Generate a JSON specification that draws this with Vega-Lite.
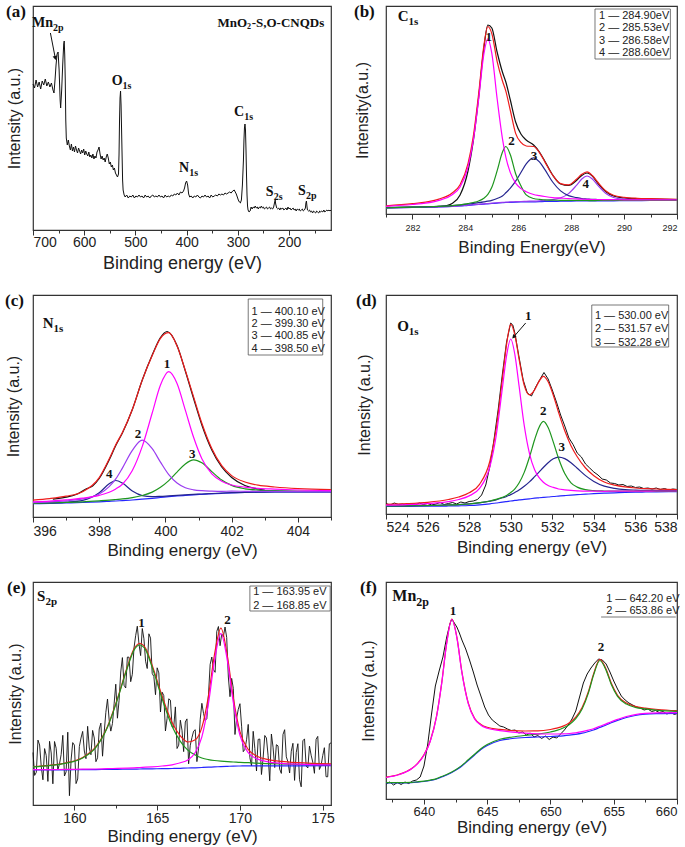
{
"$schema":"https://vega.github.io/schema/vega-lite/v6.json",
"background":"white",
"padding":{"left":4,"top":2,"right":1,"bottom":1},
"bounds":"flush",
"columns":2,
"spacing":{"row":65,"column":55},
"config":{
 "view":{"stroke":"#333","strokeWidth":1.2},
 "axis":{"labelFont":"Liberation Sans","titleFont":"Liberation Sans","titleFontWeight":"normal","labelColor":"#222","titleColor":"#222","domainColor":"#333","tickColor":"#333","grid":false},
 "title":{"font":"Liberation Serif","fontWeight":"bold","fontSize":17,"color":"#111","anchor":"start","frame":"bounds","offset":-15},
 "line":{"strokeWidth":1.2,"interpolate":"monotone","clip":true}
},
"datasets":{
"aRaw":[{"x":700,"y":146},{"x":697,"y":142},{"x":694,"y":150},{"x":691,"y":143},{"x":688,"y":148},{"x":685,"y":141},{"x":682,"y":149},{"x":679,"y":145},{"x":676,"y":151},{"x":673,"y":144},{"x":670,"y":148},{"x":667,"y":143},{"x":664,"y":147},{"x":661,"y":140},{"x":659,"y":137},{"x":657,"y":150},{"x":655,"y":165},{"x":653,"y":176},{"x":651,"y":178},{"x":649,"y":160},{"x":647,"y":130},{"x":646,"y":122},{"x":644,"y":140},{"x":642,"y":165},{"x":640,"y":186},{"x":639,"y":189},{"x":638,"y":175},{"x":637,"y":150},{"x":636,"y":110},{"x":635,"y":92},{"x":633,"y":85},{"x":631,"y":90},{"x":629,"y":84},{"x":627,"y":80},{"x":625,"y":86},{"x":623,"y":79},{"x":621,"y":83},{"x":619,"y":78},{"x":617,"y":84},{"x":615,"y":80},{"x":613,"y":77},{"x":611,"y":82},{"x":609,"y":79},{"x":607,"y":76},{"x":605,"y":80},{"x":603,"y":77},{"x":601,"y":81},{"x":599,"y":75},{"x":597,"y":79},{"x":595,"y":76},{"x":593,"y":74},{"x":591,"y":78},{"x":589,"y":73},{"x":587,"y":75},{"x":585,"y":72},{"x":583,"y":76},{"x":581,"y":71},{"x":579,"y":74},{"x":577,"y":72},{"x":575,"y":78},{"x":573,"y":80},{"x":571,"y":83},{"x":569,"y":76},{"x":567,"y":71},{"x":565,"y":74},{"x":563,"y":70},{"x":561,"y":72},{"x":559,"y":68},{"x":557,"y":73},{"x":555,"y":76},{"x":553,"y":72},{"x":551,"y":66},{"x":549,"y":68},{"x":547,"y":63},{"x":545,"y":65},{"x":543,"y":60},{"x":541,"y":62},{"x":539,"y":57},{"x":537,"y":55},{"x":535,"y":53},{"x":533,"y":56},{"x":532,"y":75},{"x":531,"y":110},{"x":530,"y":132},{"x":529,"y":139},{"x":528,"y":125},{"x":527,"y":100},{"x":526,"y":75},{"x":525,"y":50},{"x":524,"y":40},{"x":522,"y":35},{"x":520,"y":33},{"x":517,"y":35},{"x":514,"y":32},{"x":511,"y":34},{"x":508,"y":33},{"x":505,"y":35},{"x":502,"y":32},{"x":499,"y":34},{"x":496,"y":33},{"x":493,"y":35},{"x":490,"y":33},{"x":487,"y":34},{"x":484,"y":32},{"x":481,"y":35},{"x":478,"y":33},{"x":475,"y":34},{"x":472,"y":32},{"x":469,"y":34},{"x":466,"y":35},{"x":463,"y":33},{"x":460,"y":34},{"x":457,"y":33},{"x":454,"y":35},{"x":451,"y":33},{"x":448,"y":34},{"x":445,"y":32},{"x":442,"y":35},{"x":439,"y":33},{"x":436,"y":34},{"x":433,"y":33},{"x":430,"y":35},{"x":427,"y":34},{"x":424,"y":36},{"x":421,"y":35},{"x":418,"y":37},{"x":415,"y":35},{"x":412,"y":38},{"x":409,"y":37},{"x":406,"y":39},{"x":404,"y":42},{"x":402,"y":47},{"x":400,"y":49},{"x":398,"y":45},{"x":396,"y":36},{"x":394,"y":33},{"x":391,"y":34},{"x":388,"y":32},{"x":385,"y":34},{"x":382,"y":33},{"x":379,"y":35},{"x":376,"y":33},{"x":373,"y":32},{"x":370,"y":34},{"x":367,"y":33},{"x":364,"y":35},{"x":361,"y":33},{"x":358,"y":34},{"x":355,"y":32},{"x":352,"y":35},{"x":349,"y":33},{"x":346,"y":34},{"x":343,"y":35},{"x":340,"y":34},{"x":337,"y":36},{"x":334,"y":35},{"x":331,"y":36},{"x":328,"y":35},{"x":325,"y":37},{"x":322,"y":36},{"x":319,"y":37},{"x":316,"y":38},{"x":313,"y":37},{"x":310,"y":39},{"x":307,"y":40},{"x":305,"y":38},{"x":303,"y":36},{"x":301,"y":33},{"x":299,"y":30},{"x":297,"y":28},{"x":295,"y":27},{"x":293,"y":30},{"x":291,"y":45},{"x":289,"y":70},{"x":288,"y":90},{"x":287,"y":102},{"x":286,"y":106},{"x":285,"y":100},{"x":284,"y":80},{"x":283,"y":55},{"x":282,"y":35},{"x":281,"y":24},{"x":280,"y":20},{"x":278,"y":18},{"x":276,"y":19},{"x":274,"y":23},{"x":272,"y":21},{"x":270,"y":23},{"x":268,"y":22},{"x":266,"y":24},{"x":264,"y":22},{"x":262,"y":23},{"x":260,"y":21},{"x":258,"y":23},{"x":256,"y":22},{"x":254,"y":24},{"x":252,"y":22},{"x":250,"y":23},{"x":248,"y":21},{"x":246,"y":22},{"x":244,"y":23},{"x":242,"y":21},{"x":240,"y":22},{"x":238,"y":23},{"x":236,"y":21},{"x":234,"y":22},{"x":232,"y":21},{"x":230,"y":23},{"x":228,"y":28},{"x":227,"y":30},{"x":226,"y":26},{"x":224,"y":22},{"x":222,"y":21},{"x":220,"y":22},{"x":218,"y":20},{"x":216,"y":22},{"x":214,"y":21},{"x":212,"y":22},{"x":210,"y":20},{"x":208,"y":21},{"x":206,"y":22},{"x":204,"y":20},{"x":202,"y":23},{"x":200,"y":21},{"x":198,"y":22},{"x":196,"y":20},{"x":194,"y":21},{"x":192,"y":22},{"x":190,"y":20},{"x":188,"y":21},{"x":186,"y":19},{"x":184,"y":21},{"x":182,"y":20},{"x":180,"y":21},{"x":178,"y":19},{"x":176,"y":20},{"x":174,"y":21},{"x":172,"y":19},{"x":170,"y":20},{"x":168,"y":22},{"x":167,"y":27},{"x":166,"y":29},{"x":165,"y":24},{"x":164,"y":20},{"x":162,"y":19},{"x":160,"y":20},{"x":158,"y":18},{"x":156,"y":19},{"x":154,"y":17},{"x":152,"y":19},{"x":150,"y":18},{"x":148,"y":17},{"x":146,"y":19},{"x":144,"y":18},{"x":142,"y":17},{"x":140,"y":19},{"x":138,"y":18},{"x":136,"y":19},{"x":134,"y":18},{"x":132,"y":20},{"x":130,"y":18},{"x":128,"y":19},{"x":126,"y":20},{"x":124,"y":19},{"x":122,"y":20},{"x":120,"y":19},{"x":118,"y":20}],
"aEl":[{"x":661,"y":207,"m":"Mn","s":"2p"},{"x":525,"y":149,"m":"O","s":"1s"},{"x":395,"y":62,"m":"N","s":"1s"},{"x":287.5,"y":118,"m":"C","s":"1s"},{"x":230,"y":38,"m":"S","s":"2s"},{"x":167,"y":39,"m":"S","s":"2p"}],
"aName":[{"x":282,"y":207,"m":"MnO","s":"2"}],
"aTail":[{"x":273,"y":207,"t":"-S,O-CNQDs"}],
"aArrow":[{"x":666,"y":197},{"x":656.5,"y":172}],
"aHead":[{"x":656.5,"y":172}],
"bCur":[
{"x":281,"base":6,"mag":7.6,"grn":6.2,"nav":6.3,"vio":6.05,"env":8.1},
{"x":282,"base":6.5,"mag":9.5,"grn":6.8,"nav":6.9,"vio":6.6,"env":10.3},
{"x":282.5,"base":6.7,"mag":10.8,"grn":7.1,"nav":7.2,"vio":6.8,"env":11.8},
{"x":283,"base":7,"mag":13.6,"grn":7.6,"nav":7.6,"vio":7.1,"env":14.9},
{"x":283.5,"base":7.5,"mag":19.2,"grn":8.4,"nav":8.3,"vio":7.6,"env":21},
{"x":283.8,"base":8,"mag":27,"grn":9.2,"nav":9,"vio":8.1,"env":29.3},
{"x":284.1,"base":8.7,"mag":47,"grn":10.5,"nav":10,"vio":8.85,"env":50.3},
{"x":284.3,"base":9.1,"mag":73.5,"grn":11.5,"nav":10.6,"vio":9.3,"env":77.6},
{"x":284.5,"base":9.5,"mag":114.1,"grn":13,"nav":11.3,"vio":9.7,"env":119.6},
{"x":284.7,"base":9.9,"mag":160.1,"grn":15.8,"nav":12.1,"vio":10.1,"env":168.4},
{"x":284.85,"base":10.2,"mag":175.2,"grn":19.6,"nav":12.8,"vio":10.5,"env":187.5},
{"x":285,"base":10.5,"mag":160.7,"grn":26.7,"nav":13.7,"vio":10.8,"env":180.4},
{"x":285.2,"base":10.9,"mag":115.5,"grn":43.1,"nav":15.5,"vio":11.25,"env":152.7},
{"x":285.4,"base":11.3,"mag":75.7,"grn":61.7,"nav":18,"vio":11.7,"env":133.2},
{"x":285.53,"base":11.5,"mag":56.9,"grn":67.5,"nav":21.2,"vio":11.8,"env":122.9},
{"x":285.7,"base":11.7,"mag":41.4,"grn":59.3,"nav":25.8,"vio":12.1,"env":103.5},
{"x":285.9,"base":11.9,"mag":30.9,"grn":40.3,"nav":32.8,"vio":12.3,"env":80.6},
{"x":286.1,"base":12,"mag":25.4,"grn":28.2,"nav":41.5,"vio":12.5,"env":71.6},
{"x":286.3,"base":12.1,"mag":22.3,"grn":19.1,"nav":50.2,"vio":12.7,"env":68},
{"x":286.58,"base":12.2,"mag":19.5,"grn":15.5,"nav":56.2,"vio":12.9,"env":67.5},
{"x":286.8,"base":12.3,"mag":18.4,"grn":14.6,"nav":52.1,"vio":13.2,"env":61.4},
{"x":287,"base":12.5,"mag":17.5,"grn":14.2,"nav":44.6,"vio":13.6,"env":52.4},
{"x":287.3,"base":12.6,"mag":16.4,"grn":13.8,"nav":32,"vio":14.4,"env":38.8},
{"x":287.6,"base":12.8,"mag":15.9,"grn":13.7,"nav":23.1,"vio":16.1,"env":30.4},
{"x":287.9,"base":12.9,"mag":15.4,"grn":13.6,"nav":18.4,"vio":20.4,"env":29.1},
{"x":288.2,"base":13,"mag":15.1,"grn":13.6,"nav":16.4,"vio":28.7,"env":34.8},
{"x":288.4,"base":13,"mag":14.8,"grn":13.5,"nav":15.4,"vio":35,"env":39.7},
{"x":288.6,"base":13,"mag":14.7,"grn":13.5,"nav":15,"vio":38,"env":42.2},
{"x":288.8,"base":13,"mag":14.5,"grn":13.4,"nav":14.6,"vio":35,"env":38.5},
{"x":289,"base":13.1,"mag":14.5,"grn":13.5,"nav":14.5,"vio":28.8,"env":32},
{"x":289.3,"base":13.2,"mag":14.4,"grn":13.5,"nav":14.3,"vio":20.7,"env":23.3},
{"x":289.6,"base":13.2,"mag":14.3,"grn":13.5,"nav":14.1,"vio":16.5,"env":18.8},
{"x":290,"base":13.3,"mag":14.2,"grn":13.6,"nav":14,"vio":14.8,"env":16.7},
{"x":290.5,"base":13.4,"mag":14.2,"grn":13.6,"nav":13.9,"vio":14.2,"env":15.7},
{"x":291,"base":13.5,"mag":14.2,"grn":13.7,"nav":13.95,"vio":14,"env":15.35},
{"x":292,"base":13.5,"mag":14,"grn":13.6,"nav":13.8,"vio":13.8,"env":14.7}],
"bRaw":[{"x":281,"y":6.5},{"x":282,"y":6.8},{"x":282.5,"y":7},{"x":283,"y":7.6},{"x":283.3,"y":8.5},{"x":283.5,"y":10.5},{"x":283.8,"y":19},{"x":284.1,"y":43},{"x":284.3,"y":73},{"x":284.5,"y":116},{"x":284.7,"y":166},{"x":284.85,"y":189},{"x":285,"y":186},{"x":285.2,"y":162},{"x":285.4,"y":142},{"x":285.53,"y":132},{"x":285.7,"y":114},{"x":285.9,"y":92},{"x":286.1,"y":80},{"x":286.3,"y":74},{"x":286.58,"y":69},{"x":286.8,"y":62},{"x":287,"y":53},{"x":287.3,"y":39},{"x":287.6,"y":30},{"x":287.9,"y":28.5},{"x":288.2,"y":33.5},{"x":288.4,"y":38.5},{"x":288.6,"y":41},{"x":288.8,"y":38},{"x":289,"y":31},{"x":289.3,"y":22.5},{"x":289.6,"y":18},{"x":290,"y":16},{"x":290.5,"y":15.2},{"x":291,"y":14.8},{"x":292,"y":14.3}],
"bEl":[{"x":281.85,"y":198,"m":"C","s":"1s"}],
"bNum":[{"x":284.88,"y":177,"t":"1"},{"x":285.74,"y":73,"t":"2"},{"x":286.59,"y":58,"t":"3"},{"x":288.55,"y":30,"t":"4"}],
"bBox":[{"x":288.9,"x2":291.75,"y":155,"y2":205}],
"bLeg":[{"x":289.05,"y":198,"t":"1 — 284.90eV"},{"x":289.05,"y":186,"t":"2 — 285.53eV"},{"x":289.05,"y":173,"t":"3 — 286.58eV"},{"x":289.05,"y":161,"t":"4 — 288.60eV"}],
"cCur":[
{"x":396,"base":13.3,"mag":15.1,"vio":14.4,"grn":13.7,"nav":13.6,"env":16.9},
{"x":396.5,"base":13.6,"mag":15.9,"vio":15.1,"grn":14.1,"nav":14.1,"env":18.4},
{"x":397,"base":14,"mag":17.1,"vio":16.2,"grn":14.6,"nav":14.9,"env":20.8},
{"x":397.5,"base":14.5,"mag":18.8,"vio":18.1,"grn":15.2,"nav":16.7,"env":25.3},
{"x":398,"base":15.2,"mag":21.7,"vio":22.9,"grn":16.2,"nav":24.2,"env":39.4},
{"x":398.3,"base":15.7,"mag":24.7,"vio":30.3,"grn":16.9,"nav":33.2,"env":58},
{"x":398.5,"base":16,"mag":28.1,"vio":38.1,"grn":17.5,"nav":36.5,"env":72.2},
{"x":398.7,"base":16.4,"mag":32.8,"vio":48.9,"grn":18.1,"nav":33.9,"env":84.5},
{"x":399,"base":17,"mag":46.5,"vio":66.6,"grn":19.4,"nav":26,"env":107.5},
{"x":399.3,"base":17.8,"mag":70.6,"vio":76.8,"grn":21.5,"nav":21.4,"env":136.9},
{"x":399.6,"base":18.7,"mag":104,"vio":68.3,"grn":24.9,"nav":20.3,"env":161.4},
{"x":399.85,"base":19.5,"mag":132,"vio":54.9,"grn":29.7,"nav":20.6,"env":178.7},
{"x":400.1,"base":20.3,"mag":145.3,"vio":42.4,"grn":36.4,"nav":21.1,"env":184.3},
{"x":400.35,"base":21,"mag":133.5,"vio":34,"grn":44.9,"nav":21.6,"env":171},
{"x":400.6,"base":21.6,"mag":106.9,"vio":29.3,"grn":53.1,"nav":22.1,"env":146.6},
{"x":400.85,"base":22.2,"mag":79.7,"vio":27.2,"grn":57.2,"nav":22.6,"env":120.1},
{"x":401.1,"base":22.7,"mag":58.3,"vio":26.3,"grn":54.2,"nav":23,"env":93.7},
{"x":401.4,"base":23.2,"mag":43.2,"vio":25.9,"grn":45.4,"nav":23.5,"env":68.4},
{"x":401.7,"base":23.7,"mag":35.8,"vio":25.7,"grn":37,"nav":23.9,"env":51.3},
{"x":402,"base":24.1,"mag":32,"vio":25.8,"grn":31.6,"nav":24.3,"env":41.4},
{"x":402.4,"base":24.5,"mag":29.9,"vio":25.7,"grn":28.2,"nav":24.7,"env":35},
{"x":402.8,"base":24.8,"mag":28.7,"vio":25.7,"grn":26.9,"nav":24.9,"env":31.8},
{"x":403.3,"base":25,"mag":27.9,"vio":25.7,"grn":26.3,"nav":25.1,"env":30},
{"x":404,"base":25,"mag":27,"vio":25.5,"grn":25.8,"nav":25.1,"env":28.4},
{"x":405,"base":25,"mag":26.4,"vio":25.4,"grn":25.5,"nav":25.1,"env":27.4}],
"cRaw":[{"x":396.6,"y":17.8},{"x":397,"y":19.8},{"x":397.3,"y":22.5},{"x":397.6,"y":28},{"x":397.8,"y":31},{"x":398,"y":38.5},{"x":398.3,"y":57},{"x":398.5,"y":71.5},{"x":398.7,"y":84},{"x":399,"y":107.5},{"x":399.3,"y":137},{"x":399.6,"y":162},{"x":399.85,"y":179.5},{"x":400.05,"y":185.5},{"x":400.35,"y":171.5},{"x":400.6,"y":146},{"x":400.85,"y":118.5},{"x":401.1,"y":92},{"x":401.4,"y":67},{"x":401.7,"y":50},{"x":402,"y":39.5},{"x":402.4,"y":31.5},{"x":402.8,"y":28},{"x":403,"y":27}],
"cEl":[{"x":396.62,"y":194,"m":"N","s":"1s"}],
"cNum":[{"x":400.05,"y":153,"t":"1"},{"x":399.17,"y":83,"t":"2"},{"x":400.81,"y":63,"t":"3"},{"x":398.3,"y":43,"t":"4"}],
"cBox":[{"x":402.5,"x2":404.75,"y":162,"y2":218}],
"cLeg":[{"x":402.6,"y":205,"t":"1 — 400.10 eV"},{"x":402.6,"y":193,"t":"2 — 399.30 eV"},{"x":402.6,"y":181,"t":"3 — 400.85 eV"},{"x":402.6,"y":168,"t":"4 — 398.50 eV"}],
"dCur":[
{"x":524,"base":7.7,"mag":8.8,"grn":8.1,"nav":8.2,"env":9.7},
{"x":525,"base":7.7,"mag":9.4,"grn":8.2,"nav":8.2,"env":10.4},
{"x":526,"base":7.8,"mag":10.4,"grn":8.4,"nav":8.5,"env":11.7},
{"x":527,"base":8,"mag":12.4,"grn":9,"nav":9.1,"env":14.5},
{"x":527.5,"base":8.2,"mag":14.5,"grn":9.4,"nav":9.5,"env":17},
{"x":528,"base":8.5,"mag":18.1,"grn":10,"nav":10.1,"env":21.2},
{"x":528.5,"base":9.2,"mag":25.7,"grn":11.3,"nav":11.1,"env":29.7},
{"x":529,"base":10.2,"mag":47.5,"grn":13,"nav":12.9,"env":53},
{"x":529.3,"base":11,"mag":78.2,"grn":14.6,"nav":14.2,"env":85},
{"x":529.6,"base":11.8,"mag":126,"grn":16.6,"nav":16.2,"env":135.2},
{"x":529.8,"base":12.4,"mag":158.2,"grn":18.5,"nav":17.5,"env":169.4},
{"x":530,"base":13,"mag":175,"grn":21.5,"nav":19.4,"env":189.9},
{"x":530.2,"base":13.6,"mag":159.4,"grn":25.2,"nav":21.6,"env":179},
{"x":530.4,"base":14.1,"mag":128.3,"grn":31,"nav":24,"env":155.1},
{"x":530.65,"base":14.7,"mag":88.6,"grn":41.6,"nav":27.8,"env":128.6},
{"x":530.9,"base":15.2,"mag":60.7,"grn":56.8,"nav":32.1,"env":119.2},
{"x":531.15,"base":15.8,"mag":44.2,"grn":74.3,"nav":37.3,"env":124.2},
{"x":531.35,"base":16.2,"mag":36.8,"grn":86.1,"nav":41.6,"env":132.1},
{"x":531.57,"base":16.6,"mag":31.8,"grn":92.6,"nav":46.5,"env":137.7},
{"x":531.8,"base":17,"mag":28.5,"grn":86.5,"nav":51.3,"env":132.3},
{"x":532.05,"base":17.5,"mag":26.6,"grn":71.9,"nav":55.2,"env":118.7},
{"x":532.3,"base":17.9,"mag":25,"grn":55.7,"nav":56.9,"env":101.8},
{"x":532.6,"base":18.4,"mag":24.2,"grn":40.4,"nav":55.4,"env":83.2},
{"x":532.9,"base":18.9,"mag":23.6,"grn":31.2,"nav":51.3,"env":68.3},
{"x":533.2,"base":19.3,"mag":23.2,"grn":26.9,"nav":45.8,"env":57.3},
{"x":533.6,"base":19.8,"mag":22.9,"grn":24.3,"nav":38.4,"env":46},
{"x":534,"base":20.3,"mag":22.9,"grn":23.4,"nav":32.6,"env":38.3},
{"x":534.5,"base":20.8,"mag":22.7,"grn":23,"nav":27.9,"env":32},
{"x":535,"base":21.2,"mag":22.9,"grn":22.8,"nav":25.6,"env":28.9},
{"x":535.5,"base":21.5,"mag":22.9,"grn":22.8,"nav":24.4,"env":27.1},
{"x":536,"base":21.8,"mag":22.9,"grn":22.8,"nav":23.9,"env":26},
{"x":536.5,"base":22,"mag":22.9,"grn":22.8,"nav":23.6,"env":25.3},
{"x":537,"base":22.2,"mag":23,"grn":22.9,"nav":23.5,"env":25},
{"x":538,"base":22.4,"mag":23,"grn":22.9,"nav":23.3,"env":24.4}],
"dRaw":[{"x":524,"y":10.5},{"x":524.2,"y":9},{"x":524.4,"y":11},{"x":524.6,"y":9.5},{"x":524.8,"y":10},{"x":525,"y":8.5},{"x":525.2,"y":10.5},{"x":525.4,"y":9},{"x":525.6,"y":11},{"x":525.8,"y":9.5},{"x":526,"y":10.5},{"x":526.2,"y":9},{"x":526.4,"y":10},{"x":526.6,"y":11.5},{"x":526.8,"y":9.5},{"x":527,"y":10.5},{"x":527.2,"y":11.5},{"x":527.4,"y":10},{"x":527.6,"y":12},{"x":527.8,"y":11},{"x":528,"y":12.5},{"x":528.2,"y":13},{"x":528.4,"y":14.5},{"x":528.6,"y":19},{"x":528.8,"y":29},{"x":529,"y":48},{"x":529.2,"y":75},{"x":529.4,"y":105},{"x":529.6,"y":140},{"x":529.8,"y":172},{"x":530,"y":191},{"x":530.1,"y":189},{"x":530.2,"y":181},{"x":530.4,"y":157},{"x":530.6,"y":134},{"x":530.8,"y":121},{"x":531,"y":118},{"x":531.2,"y":127},{"x":531.4,"y":134.5},{"x":531.6,"y":141.5},{"x":531.8,"y":135},{"x":532,"y":124},{"x":532.2,"y":112},{"x":532.4,"y":99},{"x":532.6,"y":88},{"x":532.8,"y":76},{"x":533,"y":69.5},{"x":533.2,"y":61},{"x":533.4,"y":57},{"x":533.6,"y":50},{"x":533.8,"y":46},{"x":534,"y":42},{"x":534.2,"y":39},{"x":534.4,"y":35},{"x":534.6,"y":34},{"x":534.8,"y":31},{"x":535,"y":30.5},{"x":535.2,"y":29},{"x":535.4,"y":29.5},{"x":535.6,"y":27.5},{"x":535.8,"y":28},{"x":536,"y":26.5},{"x":536.2,"y":27},{"x":536.4,"y":25.5},{"x":536.6,"y":26},{"x":536.8,"y":25},{"x":537,"y":26},{"x":537.2,"y":24.5},{"x":537.4,"y":25.5},{"x":537.6,"y":24},{"x":537.8,"y":25},{"x":538,"y":24.5}],
"dEl":[{"x":525.1,"y":188,"m":"O","s":"1s"}],
"dNum":[{"x":530.84,"y":198,"t":"1"},{"x":531.57,"y":103,"t":"2"},{"x":532.45,"y":67,"t":"3"}],
"dBox":[{"x":533.9,"x2":537.6,"y":167,"y2":209}],
"dLeg":[{"x":534.05,"y":198,"t":"1 — 530.00 eV"},{"x":534.05,"y":185,"t":"2 — 531.57 eV"},{"x":534.05,"y":171,"t":"3 — 532.28 eV"}],
"dArrow":[{"x":530.72,"y":191},{"x":530.14,"y":177}],
"dHead":[{"x":530.14,"y":177}],
"eCur":[
{"x":157.5,"base":35,"grn":38.2,"mag":35.3,"env":38.5},
{"x":158.5,"base":35.1,"grn":39.4,"mag":35.4,"env":39.7},
{"x":159.5,"base":35.2,"grn":41.8,"mag":35.6,"env":42.2},
{"x":160.5,"base":35.3,"grn":47.1,"mag":35.8,"env":47.6},
{"x":161.3,"base":35.4,"grn":57.7,"mag":36,"env":58.3},
{"x":162,"base":35.6,"grn":77.8,"mag":36.4,"env":78.6},
{"x":162.6,"base":35.7,"grn":105.5,"mag":36.6,"env":106.4},
{"x":163.2,"base":35.8,"grn":137.2,"mag":36.9,"env":138.3},
{"x":163.6,"base":35.9,"grn":154.9,"mag":37.2,"env":156.2},
{"x":163.95,"base":36,"grn":160,"mag":37.5,"env":161.5},
{"x":164.3,"base":36.1,"grn":155.1,"mag":37.8,"env":156.8},
{"x":164.7,"base":36.2,"grn":137.6,"mag":38.2,"env":139.6},
{"x":165.3,"base":36.3,"grn":106.1,"mag":39,"env":108.8},
{"x":165.9,"base":36.5,"grn":78.7,"mag":40.2,"env":82.4},
{"x":166.4,"base":36.7,"grn":63.6,"mag":42.2,"env":69.1},
{"x":166.85,"base":37,"grn":54.9,"mag":45.1,"env":63},
{"x":167.3,"base":37.2,"grn":50,"mag":52.5,"env":65.3},
{"x":167.7,"base":37.5,"grn":47,"mag":68.2,"env":77.7},
{"x":168.1,"base":37.8,"grn":45.4,"mag":101.6,"env":109.2},
{"x":168.45,"base":38.1,"grn":44.5,"mag":142.8,"env":149.2},
{"x":168.85,"base":38.4,"grn":43.8,"mag":171.4,"env":176.8},
{"x":169.25,"base":38.7,"grn":43.3,"mag":143.4,"env":148},
{"x":169.6,"base":38.9,"grn":43,"mag":102.7,"env":106.8},
{"x":170,"base":39,"grn":42.6,"mag":69.7,"env":73.3},
{"x":170.5,"base":39.1,"grn":42.3,"mag":52.4,"env":55.6},
{"x":171,"base":39.1,"grn":41.8,"mag":46.4,"env":49.1},
{"x":171.7,"base":39.2,"grn":41.4,"mag":43.2,"env":45.4},
{"x":172.5,"base":39.2,"grn":41.1,"mag":41.7,"env":43.6},
{"x":173.5,"base":39.2,"grn":40.7,"mag":40.8,"env":42.3},
{"x":175.5,"base":39.3,"grn":40.3,"mag":40.1,"env":41.1}],
"eRaw":[{"x":157.5,"y":52.5},{"x":157.6,"y":29.6},{"x":157.7,"y":32.7},{"x":157.8,"y":64.9},{"x":157.9,"y":60},{"x":158,"y":38.1},{"x":158.1,"y":25.2},{"x":158.2,"y":56.4},{"x":158.3,"y":49.5},{"x":158.4,"y":23.6},{"x":158.5,"y":63.7},{"x":158.6,"y":52},{"x":158.7,"y":21.2},{"x":158.8,"y":63.5},{"x":158.9,"y":56.7},{"x":159,"y":35},{"x":159.1,"y":41.2},{"x":159.2,"y":50.5},{"x":159.3,"y":69.7},{"x":159.4,"y":29},{"x":159.5,"y":33.2},{"x":159.6,"y":72.8},{"x":159.7,"y":9.3},{"x":159.8,"y":44.9},{"x":159.9,"y":62.4},{"x":160,"y":59.9},{"x":160.1,"y":21.4},{"x":160.2,"y":26},{"x":160.3,"y":58.5},{"x":160.4,"y":67},{"x":160.5,"y":73.6},{"x":160.6,"y":54},{"x":160.7,"y":46.3},{"x":160.8,"y":78.7},{"x":160.9,"y":57},{"x":161,"y":50.3},{"x":161.1,"y":74.6},{"x":161.2,"y":67},{"x":161.3,"y":43.3},{"x":161.4,"y":47.2},{"x":161.5,"y":76},{"x":161.6,"y":81.9},{"x":161.7,"y":48.8},{"x":161.8,"y":72.8},{"x":161.9,"y":92.7},{"x":162,"y":106},{"x":162.1,"y":85.2},{"x":162.2,"y":73.9},{"x":162.3,"y":81.5},{"x":162.4,"y":101.2},{"x":162.5,"y":120.8},{"x":162.6,"y":86.8},{"x":162.7,"y":104.7},{"x":162.8,"y":133},{"x":162.9,"y":147.4},{"x":163,"y":119.7},{"x":163.1,"y":117},{"x":163.2,"y":147.9},{"x":163.3,"y":147.8},{"x":163.4,"y":123.3},{"x":163.5,"y":130.7},{"x":163.6,"y":157},{"x":163.7,"y":169.3},{"x":163.8,"y":178.8},{"x":163.9,"y":161.3},{"x":164,"y":149.4},{"x":164.1,"y":176.5},{"x":164.2,"y":166.2},{"x":164.3,"y":143.8},{"x":164.4,"y":136.5},{"x":164.5,"y":171.2},{"x":164.6,"y":166.9},{"x":164.7,"y":131.6},{"x":164.8,"y":128.5},{"x":164.9,"y":110.3},{"x":165,"y":137.2},{"x":165.1,"y":132.1},{"x":165.2,"y":93},{"x":165.3,"y":112.8},{"x":165.4,"y":109.4},{"x":165.5,"y":74},{"x":165.6,"y":86.6},{"x":165.7,"y":106.2},{"x":165.8,"y":104.8},{"x":165.9,"y":78.4},{"x":166,"y":77.8},{"x":166.1,"y":98.1},{"x":166.2,"y":56.5},{"x":166.3,"y":59.8},{"x":166.4,"y":84.8},{"x":166.5,"y":74.7},{"x":166.6,"y":53.4},{"x":166.7,"y":83},{"x":166.8,"y":86.1},{"x":166.9,"y":41.2},{"x":167,"y":59.8},{"x":167.1,"y":67.3},{"x":167.2,"y":73.8},{"x":167.3,"y":75.3},{"x":167.4,"y":43.4},{"x":167.5,"y":56.5},{"x":167.6,"y":85.6},{"x":167.7,"y":101.7},{"x":167.8,"y":91.6},{"x":167.9,"y":84.5},{"x":168,"y":86.4},{"x":168.1,"y":110.2},{"x":168.2,"y":140.6},{"x":168.3,"y":148},{"x":168.4,"y":135.4},{"x":168.5,"y":132.7},{"x":168.6,"y":173.6},{"x":168.7,"y":178.5},{"x":168.8,"y":159.3},{"x":168.9,"y":171},{"x":169,"y":168.5},{"x":169.1,"y":178},{"x":169.2,"y":167.5},{"x":169.3,"y":128},{"x":169.4,"y":108.3},{"x":169.5,"y":126.6},{"x":169.6,"y":116.6},{"x":169.7,"y":70.5},{"x":169.8,"y":87.1},{"x":169.9,"y":95.7},{"x":170,"y":101.3},{"x":170.1,"y":78.8},{"x":170.2,"y":53.3},{"x":170.3,"y":55.7},{"x":170.4,"y":65.2},{"x":170.5,"y":80.6},{"x":170.6,"y":47.3},{"x":170.7,"y":39},{"x":170.8,"y":73.7},{"x":170.9,"y":56.4},{"x":171,"y":34},{"x":171.1,"y":65.6},{"x":171.2,"y":66},{"x":171.3,"y":30.5},{"x":171.4,"y":47},{"x":171.5,"y":69.5},{"x":171.6,"y":67},{"x":171.7,"y":49.4},{"x":171.8,"y":24.2},{"x":171.9,"y":71},{"x":172,"y":57.8},{"x":172.1,"y":37.5},{"x":172.2,"y":60.3},{"x":172.3,"y":59.1},{"x":172.4,"y":35.9},{"x":172.5,"y":31.6},{"x":172.6,"y":70.5},{"x":172.7,"y":75.3},{"x":172.8,"y":48.2},{"x":172.9,"y":43.1},{"x":173,"y":32},{"x":173.1,"y":53.8},{"x":173.2,"y":61.7},{"x":173.3,"y":24.6},{"x":173.4,"y":52.5},{"x":173.5,"y":61.3},{"x":173.6,"y":25.3},{"x":173.7,"y":18.2},{"x":173.8,"y":64.2},{"x":173.9,"y":66.1},{"x":174,"y":39},{"x":174.1,"y":37},{"x":174.2,"y":58.9},{"x":174.3,"y":49.8},{"x":174.4,"y":42.8},{"x":174.5,"y":31.7},{"x":174.6,"y":65.7},{"x":174.7,"y":68.6},{"x":174.8,"y":35.5},{"x":174.9,"y":39.4},{"x":175,"y":49.4},{"x":175.1,"y":57.3},{"x":175.2,"y":28.3},{"x":175.3,"y":28.2},{"x":175.4,"y":61.2},{"x":175.5,"y":62.1}],
"eEl":[{"x":158.25,"y":209,"m":"S","s":"2p"}],
"eNum":[{"x":164.05,"y":182,"t":"1"},{"x":169.25,"y":185,"t":"2"}],
"eBox":[{"x":170.6,"x2":175.45,"y":194,"y2":219}],
"eLeg":[{"x":170.8,"y":213,"t":"1 — 163.95 eV"},{"x":170.8,"y":199,"t":"2 — 168.85 eV"}],
"fCur":[
{"x":637,"base":16,"mag":21.5,"grn":16.3,"env":21.8},
{"x":638,"base":16,"mag":24.2,"grn":16.3,"env":24.5},
{"x":639,"base":16.3,"mag":29.9,"grn":16.6,"env":30.2},
{"x":639.5,"base":16.8,"mag":35.3,"grn":17.2,"env":35.7},
{"x":640,"base":17.5,"mag":43.7,"grn":17.9,"env":44.1},
{"x":640.5,"base":18.5,"mag":57.8,"grn":18.9,"env":58.2},
{"x":641,"base":20,"mag":82.7,"grn":20.4,"env":83.1},
{"x":641.4,"base":22,"mag":115.3,"grn":22.5,"env":115.8},
{"x":641.8,"base":24,"mag":155.9,"grn":24.5,"env":156.4},
{"x":642.2,"base":26.5,"mag":179.5,"grn":27,"env":180},
{"x":642.6,"base":29.5,"mag":161.4,"grn":30,"env":161.9},
{"x":643,"base":33,"mag":126.3,"grn":33.6,"env":126.9},
{"x":643.5,"base":38.5,"mag":95.4,"grn":39.2,"env":96.1},
{"x":644,"base":44,"mag":80.1,"grn":44.7,"env":80.8},
{"x":644.5,"base":49.5,"mag":73.8,"grn":50.3,"env":74.6},
{"x":645,"base":53.5,"mag":70.8,"grn":54.4,"env":71.7},
{"x":646,"base":58.5,"mag":68.4,"grn":59.7,"env":69.6},
{"x":647,"base":60.5,"mag":66.9,"grn":62,"env":68.4},
{"x":648,"base":61.5,"mag":65.9,"grn":63.6,"env":68},
{"x":649,"base":62,"mag":65.2,"grn":64.9,"env":68.1},
{"x":650,"base":62.5,"mag":65,"grn":67,"env":69.5},
{"x":650.5,"base":62.8,"mag":65,"grn":68.6,"env":70.8},
{"x":651,"base":63.2,"mag":65.1,"grn":71,"env":72.9},
{"x":651.5,"base":63.8,"mag":65.5,"grn":74.6,"env":76.3},
{"x":652,"base":64.6,"mag":66.2,"grn":80.3,"env":81.9},
{"x":652.5,"base":65.8,"mag":67.3,"grn":89.9,"env":91.4},
{"x":653,"base":67.5,"mag":68.9,"grn":106.1,"env":107.5},
{"x":653.4,"base":69,"mag":70.3,"grn":123.6,"env":124.9},
{"x":653.9,"base":71.5,"mag":72.7,"grn":138.5,"env":139.7},
{"x":654.4,"base":74,"mag":75.1,"grn":128.6,"env":129.7},
{"x":654.8,"base":76.2,"mag":77.3,"grn":114.8,"env":115.9},
{"x":655.3,"base":78.6,"mag":79.6,"grn":102.7,"env":103.7},
{"x":656,"base":81.5,"mag":82.5,"grn":94.9,"env":95.9},
{"x":656.7,"base":83.5,"mag":84.4,"grn":91.7,"env":92.6},
{"x":657.5,"base":84.8,"mag":85.6,"grn":90.1,"env":90.9},
{"x":658.5,"base":85.4,"mag":86.2,"grn":88.7,"env":89.5},
{"x":660,"base":85.7,"mag":86.4,"grn":87.6,"env":88.3}],
"fRaw":[{"x":637,"y":15},{"x":637.3,"y":17},{"x":637.6,"y":14},{"x":637.9,"y":16.5},{"x":638.2,"y":14.5},{"x":638.5,"y":17},{"x":638.8,"y":15.5},{"x":639.1,"y":18},{"x":639.4,"y":19},{"x":639.7,"y":22},{"x":640,"y":33},{"x":640.3,"y":55},{"x":640.6,"y":85},{"x":640.9,"y":113},{"x":641.2,"y":128},{"x":641.5,"y":142},{"x":641.8,"y":162},{"x":642.05,"y":175},{"x":642.2,"y":180},{"x":642.4,"y":176},{"x":642.6,"y":172},{"x":642.8,"y":166},{"x":643,"y":159},{"x":643.3,"y":150},{"x":643.6,"y":139},{"x":643.9,"y":127},{"x":644.2,"y":114},{"x":644.5,"y":103},{"x":644.8,"y":92},{"x":645.1,"y":84},{"x":645.4,"y":79},{"x":645.7,"y":76},{"x":646,"y":73},{"x":646.3,"y":72},{"x":646.6,"y":70},{"x":646.9,"y":68.5},{"x":647.2,"y":69},{"x":647.5,"y":66},{"x":647.8,"y":67},{"x":648.1,"y":64},{"x":648.4,"y":66},{"x":648.7,"y":62},{"x":649,"y":63.5},{"x":649.3,"y":60.5},{"x":649.6,"y":63},{"x":649.9,"y":59.5},{"x":650.2,"y":62},{"x":650.5,"y":61},{"x":650.8,"y":65},{"x":651.1,"y":69},{"x":651.4,"y":74},{"x":651.7,"y":80},{"x":652,"y":88},{"x":652.3,"y":102},{"x":652.6,"y":116},{"x":652.9,"y":125},{"x":653.2,"y":131},{"x":653.5,"y":136},{"x":653.8,"y":140},{"x":654.1,"y":139},{"x":654.4,"y":135},{"x":654.7,"y":127},{"x":655,"y":118},{"x":655.3,"y":110},{"x":655.6,"y":103},{"x":655.9,"y":99},{"x":656.2,"y":96},{"x":656.5,"y":94},{"x":656.8,"y":92},{"x":657.1,"y":91},{"x":657.4,"y":89},{"x":657.7,"y":90},{"x":658,"y":87.5},{"x":658.3,"y":88.5},{"x":658.6,"y":86.5},{"x":658.9,"y":87.5},{"x":659.2,"y":85},{"x":659.5,"y":86.5},{"x":659.8,"y":84.5},{"x":660,"y":85.5}],
"fEl":[{"x":639.4,"y":203,"m":"Mn","s":"2p"}],
"fNum":[{"x":642.3,"y":188,"t":"1"},{"x":654.0,"y":152,"t":"2"}],
"fLeg":[{"x":654.4,"y":200,"t":"1 — 642.20 eV"},{"x":654.4,"y":188,"t":"2 — 653.86 eV"}],
"fLine":[{"x":654.0,"x2":659.9,"y":182}]
},
"concat":[
 {"width":298,"height":224,"title":{"text":"(a)"},
  "encoding":{
   "x":{"field":"x","type":"quantitative","scale":{"domain":[118,700],"reverse":true,"nice":false,"zero":false},"axis":{"title":"Binding energy (eV)","values":[150,200,250,300,350,400,450,500,550,600,650,700],"labelExpr":"datum.value % 100 === 0 ? datum.label : ''","tickSize":{"condition":{"test":"datum.value % 100 !== 0","value":3},"value":5},"labelFontSize":14,"titleFontSize":18,"labelPadding":0,"titlePadding":5}},
   "y":{"field":"y","type":"quantitative","scale":{"domain":[0,224],"nice":false,"zero":false},"axis":{"title":"Intensity (a.u.)","labels":false,"ticks":false,"domain":false,"titleFontSize":16,"titlePadding":11}}},
  "layer":[
   {"data":{"name":"aRaw"},"mark":{"type":"line","color":"#111","strokeWidth":1,"interpolate":"linear"},"encoding":{}},
   {"data":{"name":"aArrow"},"mark":{"type":"line","color":"#111","strokeWidth":1,"interpolate":"linear"},"encoding":{}},
   {"data":{"name":"aHead"},"mark":{"type":"point","shape":"triangle-down","filled":true,"color":"#111","opacity":1,"size":22,"angle":350}},
   {"data":{"name":"aEl"},"mark":{"type":"text","align":"right","baseline":"middle","font":"Liberation Serif","fontWeight":"bold","fontSize":14,"color":"#111"},"encoding":{"text":{"field":"m"}}},
   {"data":{"name":"aEl"},"mark":{"type":"text","align":"left","baseline":"middle","dy":5,"font":"Liberation Serif","fontWeight":"bold","fontSize":10,"color":"#111"},"encoding":{"text":{"field":"s"}}},
   {"data":{"name":"aName"},"mark":{"type":"text","align":"right","baseline":"middle","font":"Liberation Serif","fontWeight":"bold","fontSize":13,"color":"#111"},"encoding":{"text":{"field":"m"}}},
   {"data":{"name":"aName"},"mark":{"type":"text","align":"left","baseline":"middle","dy":4,"font":"Liberation Serif","fontWeight":"bold","fontSize":8,"color":"#111"},"encoding":{"text":{"field":"s"}}},
   {"data":{"name":"aTail"},"mark":{"type":"text","align":"left","baseline":"middle","font":"Liberation Serif","fontWeight":"bold","fontSize":13,"color":"#111"},"encoding":{"text":{"field":"t"}}}
  ]},
 {"width":291,"height":208,"title":{"text":"(b)"},
  "encoding":{
   "x":{"field":"x","type":"quantitative","scale":{"domain":[281,292],"nice":false,"zero":false},"axis":{"title":"Binding Energy(eV)","values":[281,282,283,284,285,286,287,288,289,290,291,292],"labelExpr":"datum.value % 2 === 0 ? datum.label : ''","tickSize":{"condition":{"test":"datum.value % 2 !== 0","value":3},"value":5},"labelFontSize":9,"titleFontSize":17,"labelPadding":4,"titlePadding":7}},
   "y":{"field":"y","type":"quantitative","scale":{"domain":[0,208],"nice":false,"zero":false},"axis":{"title":"Intensity(a.u.)","labels":false,"ticks":false,"domain":false,"titleFontSize":16,"titlePadding":16}}},
  "layer":[
   {"data":{"name":"bRaw"},"mark":{"type":"line","color":"#111"},"encoding":{}},
   {"data":{"name":"bCur"},"transform":[{"fold":["env","base","vio","nav","grn","mag"],"as":["s","y"]}],"mark":{"type":"line"},"encoding":{"color":{"field":"s","type":"nominal","scale":{"domain":["env","base","mag","grn","nav","vio"],"range":["#ee1c1c","#2626ff","#ff00ff","#1e961e","#25258f","#9b3cf0"]},"legend":null}}},
   {"data":{"name":"bEl"},"mark":{"type":"text","align":"right","baseline":"middle","font":"Liberation Serif","fontWeight":"bold","fontSize":15,"color":"#111"},"encoding":{"text":{"field":"m"}}},
   {"data":{"name":"bEl"},"mark":{"type":"text","align":"left","baseline":"middle","dy":6,"font":"Liberation Serif","fontWeight":"bold","fontSize":11,"color":"#111"},"encoding":{"text":{"field":"s"}}},
   {"data":{"name":"bNum"},"mark":{"type":"text","baseline":"middle","font":"Liberation Serif","fontWeight":"bold","fontSize":13,"color":"#111"},"encoding":{"text":{"field":"t"}}},
   {"data":{"name":"bBox"},"mark":{"type":"rect","fill":"white","stroke":"#555","strokeWidth":0.8},"encoding":{"x2":{"field":"x2"},"y2":{"field":"y2"}}},
   {"data":{"name":"bLeg"},"mark":{"type":"text","align":"left","baseline":"middle","font":"Liberation Sans","fontSize":11,"color":"#222"},"encoding":{"text":{"field":"t"}}}
  ]},
 {"width":298,"height":222,"title":{"text":"(c)"},
  "encoding":{
   "x":{"field":"x","type":"quantitative","scale":{"domain":[396,405],"nice":false,"zero":false},"axis":{"title":"Binding energy (eV)","values":[396,397,398,399,400,401,402,403,404,405],"labelExpr":"datum.value % 2 === 0 ? datum.label : ''","tickSize":{"condition":{"test":"datum.value % 2 !== 0","value":3},"value":5},"labelFontSize":14,"titleFontSize":17,"labelPadding":2,"titlePadding":4}},
   "y":{"field":"y","type":"quantitative","scale":{"domain":[0,222],"nice":false,"zero":false},"axis":{"title":"Intensity (a.u.)","labels":false,"ticks":false,"domain":false,"titleFontSize":16,"titlePadding":12}}},
  "layer":[
   {"data":{"name":"cRaw"},"mark":{"type":"line","color":"#111"},"encoding":{}},
   {"data":{"name":"cCur"},"transform":[{"fold":["env","base","nav","grn","vio","mag"],"as":["s","y"]}],"mark":{"type":"line"},"encoding":{"color":{"field":"s","type":"nominal","scale":{"domain":["env","base","mag","grn","nav","vio"],"range":["#ee1c1c","#2626ff","#ff00ff","#1e961e","#25258f","#9b3cf0"]},"legend":null}}},
   {"data":{"name":"cEl"},"mark":{"type":"text","align":"right","baseline":"middle","font":"Liberation Serif","fontWeight":"bold","fontSize":15,"color":"#111"},"encoding":{"text":{"field":"m"}}},
   {"data":{"name":"cEl"},"mark":{"type":"text","align":"left","baseline":"middle","dy":6,"font":"Liberation Serif","fontWeight":"bold","fontSize":11,"color":"#111"},"encoding":{"text":{"field":"s"}}},
   {"data":{"name":"cNum"},"mark":{"type":"text","baseline":"middle","font":"Liberation Serif","fontWeight":"bold","fontSize":13,"color":"#111"},"encoding":{"text":{"field":"t"}}},
   {"data":{"name":"cBox"},"mark":{"type":"rect","fill":"white","stroke":"#555","strokeWidth":0.8},"encoding":{"x2":{"field":"x2"},"y2":{"field":"y2"}}},
   {"data":{"name":"cLeg"},"mark":{"type":"text","align":"left","baseline":"middle","font":"Liberation Sans","fontSize":11,"color":"#222"},"encoding":{"text":{"field":"t"}}}
  ]},
 {"width":291,"height":219,"title":{"text":"(d)"},
  "encoding":{
   "x":{"field":"x","type":"quantitative","scale":{"domain":[524,538],"nice":false,"zero":false},"axis":{"title":"Binding energy (eV)","values":[524,525,526,527,528,529,530,531,532,533,534,535,536,537,538],"labelExpr":"datum.value % 2 === 0 ? datum.label : ''","tickSize":{"condition":{"test":"datum.value % 2 !== 0","value":3},"value":5},"labelFontSize":14,"titleFontSize":17,"labelPadding":1,"titlePadding":5}},
   "y":{"field":"y","type":"quantitative","scale":{"domain":[0,219],"nice":false,"zero":false},"axis":{"title":"Intensity (a.u.)","labels":false,"ticks":false,"domain":false,"titleFontSize":16,"titlePadding":14}}},
  "layer":[
   {"data":{"name":"dRaw"},"mark":{"type":"line","color":"#111","strokeWidth":1,"interpolate":"linear"},"encoding":{}},
   {"data":{"name":"dCur"},"transform":[{"fold":["env","base","nav","grn","mag"],"as":["s","y"]}],"mark":{"type":"line"},"encoding":{"color":{"field":"s","type":"nominal","scale":{"domain":["env","base","mag","grn","nav","vio"],"range":["#ee1c1c","#2626ff","#ff00ff","#1e961e","#25258f","#9b3cf0"]},"legend":null}}},
   {"data":{"name":"dArrow"},"mark":{"type":"line","color":"#111","strokeWidth":1,"interpolate":"linear"},"encoding":{}},
   {"data":{"name":"dHead"},"mark":{"type":"point","shape":"triangle-down","filled":true,"color":"#111","opacity":1,"size":22,"angle":42}},
   {"data":{"name":"dEl"},"mark":{"type":"text","align":"right","baseline":"middle","font":"Liberation Serif","fontWeight":"bold","fontSize":15,"color":"#111"},"encoding":{"text":{"field":"m"}}},
   {"data":{"name":"dEl"},"mark":{"type":"text","align":"left","baseline":"middle","dy":6,"font":"Liberation Serif","fontWeight":"bold","fontSize":11,"color":"#111"},"encoding":{"text":{"field":"s"}}},
   {"data":{"name":"dNum"},"mark":{"type":"text","baseline":"middle","font":"Liberation Serif","fontWeight":"bold","fontSize":13,"color":"#111"},"encoding":{"text":{"field":"t"}}},
   {"data":{"name":"dBox"},"mark":{"type":"rect","fill":"white","stroke":"#555","strokeWidth":0.8},"encoding":{"x2":{"field":"x2"},"y2":{"field":"y2"}}},
   {"data":{"name":"dLeg"},"mark":{"type":"text","align":"left","baseline":"middle","font":"Liberation Sans","fontSize":11,"color":"#222"},"encoding":{"text":{"field":"t"}}}
  ]},
 {"width":298,"height":223,"title":{"text":"(e)"},
  "encoding":{
   "x":{"field":"x","type":"quantitative","scale":{"domain":[157.5,175.5],"nice":false,"zero":false},"axis":{"title":"Binding energy (eV)","values":[160,162.5,165,167.5,170,172.5,175],"labelExpr":"datum.value % 5 === 0 ? datum.label : ''","tickSize":{"condition":{"test":"datum.value % 5 !== 0","value":3},"value":5},"labelFontSize":14,"titleFontSize":17,"labelPadding":1,"titlePadding":3}},
   "y":{"field":"y","type":"quantitative","scale":{"domain":[0,223],"nice":false,"zero":false},"axis":{"title":"Intensity (a.u.)","labels":false,"ticks":false,"domain":false,"titleFontSize":16,"titlePadding":10}}},
  "layer":[
   {"data":{"name":"eRaw"},"mark":{"type":"line","color":"#111","strokeWidth":0.9,"interpolate":"linear"},"encoding":{}},
   {"data":{"name":"eCur"},"transform":[{"fold":["env","base","grn","mag"],"as":["s","y"]}],"mark":{"type":"line"},"encoding":{"color":{"field":"s","type":"nominal","scale":{"domain":["env","base","mag","grn","nav","vio"],"range":["#ee1c1c","#2626ff","#ff00ff","#1e961e","#25258f","#9b3cf0"]},"legend":null}}},
   {"data":{"name":"eEl"},"mark":{"type":"text","align":"right","baseline":"middle","font":"Liberation Serif","fontWeight":"bold","fontSize":15,"color":"#111"},"encoding":{"text":{"field":"m"}}},
   {"data":{"name":"eEl"},"mark":{"type":"text","align":"left","baseline":"middle","dy":6,"font":"Liberation Serif","fontWeight":"bold","fontSize":11,"color":"#111"},"encoding":{"text":{"field":"s"}}},
   {"data":{"name":"eNum"},"mark":{"type":"text","baseline":"middle","font":"Liberation Serif","fontWeight":"bold","fontSize":13,"color":"#111"},"encoding":{"text":{"field":"t"}}},
   {"data":{"name":"eBox"},"mark":{"type":"rect","fill":"white","stroke":"#555","strokeWidth":0.8},"encoding":{"x2":{"field":"x2"},"y2":{"field":"y2"}}},
   {"data":{"name":"eLeg"},"mark":{"type":"text","align":"left","baseline":"middle","font":"Liberation Sans","fontSize":11,"color":"#222"},"encoding":{"text":{"field":"t"}}}
  ]},
 {"width":291,"height":217,"title":{"text":"(f)"},
  "encoding":{
   "x":{"field":"x","type":"quantitative","scale":{"domain":[637,660],"nice":false,"zero":false},"axis":{"title":"Binding energy (eV)","values":[637.5,640,642.5,645,647.5,650,652.5,655,657.5,660],"labelExpr":"datum.value % 5 === 0 ? datum.label : ''","tickSize":{"condition":{"test":"datum.value % 5 !== 0","value":3},"value":5},"labelFontSize":13,"titleFontSize":17,"labelPadding":1,"titlePadding":1}},
   "y":{"field":"y","type":"quantitative","scale":{"domain":[0,217],"nice":false,"zero":false},"axis":{"title":"Intensity (a.u.)","labels":false,"ticks":false,"domain":false,"titleFontSize":16,"titlePadding":10}}},
  "layer":[
   {"data":{"name":"fRaw"},"mark":{"type":"line","color":"#111","strokeWidth":1,"interpolate":"linear"},"encoding":{}},
   {"data":{"name":"fCur"},"transform":[{"fold":["env","base","grn","mag"],"as":["s","y"]}],"mark":{"type":"line"},"encoding":{"color":{"field":"s","type":"nominal","scale":{"domain":["env","base","mag","grn","nav","vio"],"range":["#ee1c1c","#2626ff","#ff00ff","#1e961e","#25258f","#9b3cf0"]},"legend":null}}},
   {"data":{"name":"fEl"},"mark":{"type":"text","align":"right","baseline":"middle","font":"Liberation Serif","fontWeight":"bold","fontSize":16,"color":"#111"},"encoding":{"text":{"field":"m"}}},
   {"data":{"name":"fEl"},"mark":{"type":"text","align":"left","baseline":"middle","dy":6,"font":"Liberation Serif","fontWeight":"bold","fontSize":12,"color":"#111"},"encoding":{"text":{"field":"s"}}},
   {"data":{"name":"fNum"},"mark":{"type":"text","baseline":"middle","font":"Liberation Serif","fontWeight":"bold","fontSize":13,"color":"#111"},"encoding":{"text":{"field":"t"}}},
   {"data":{"name":"fLine"},"mark":{"type":"rule","color":"#555","strokeWidth":0.8},"encoding":{"x2":{"field":"x2"}}},
   {"data":{"name":"fLeg"},"mark":{"type":"text","align":"left","baseline":"middle","font":"Liberation Sans","fontSize":11,"color":"#222"},"encoding":{"text":{"field":"t"}}}
  ]}
]
}
